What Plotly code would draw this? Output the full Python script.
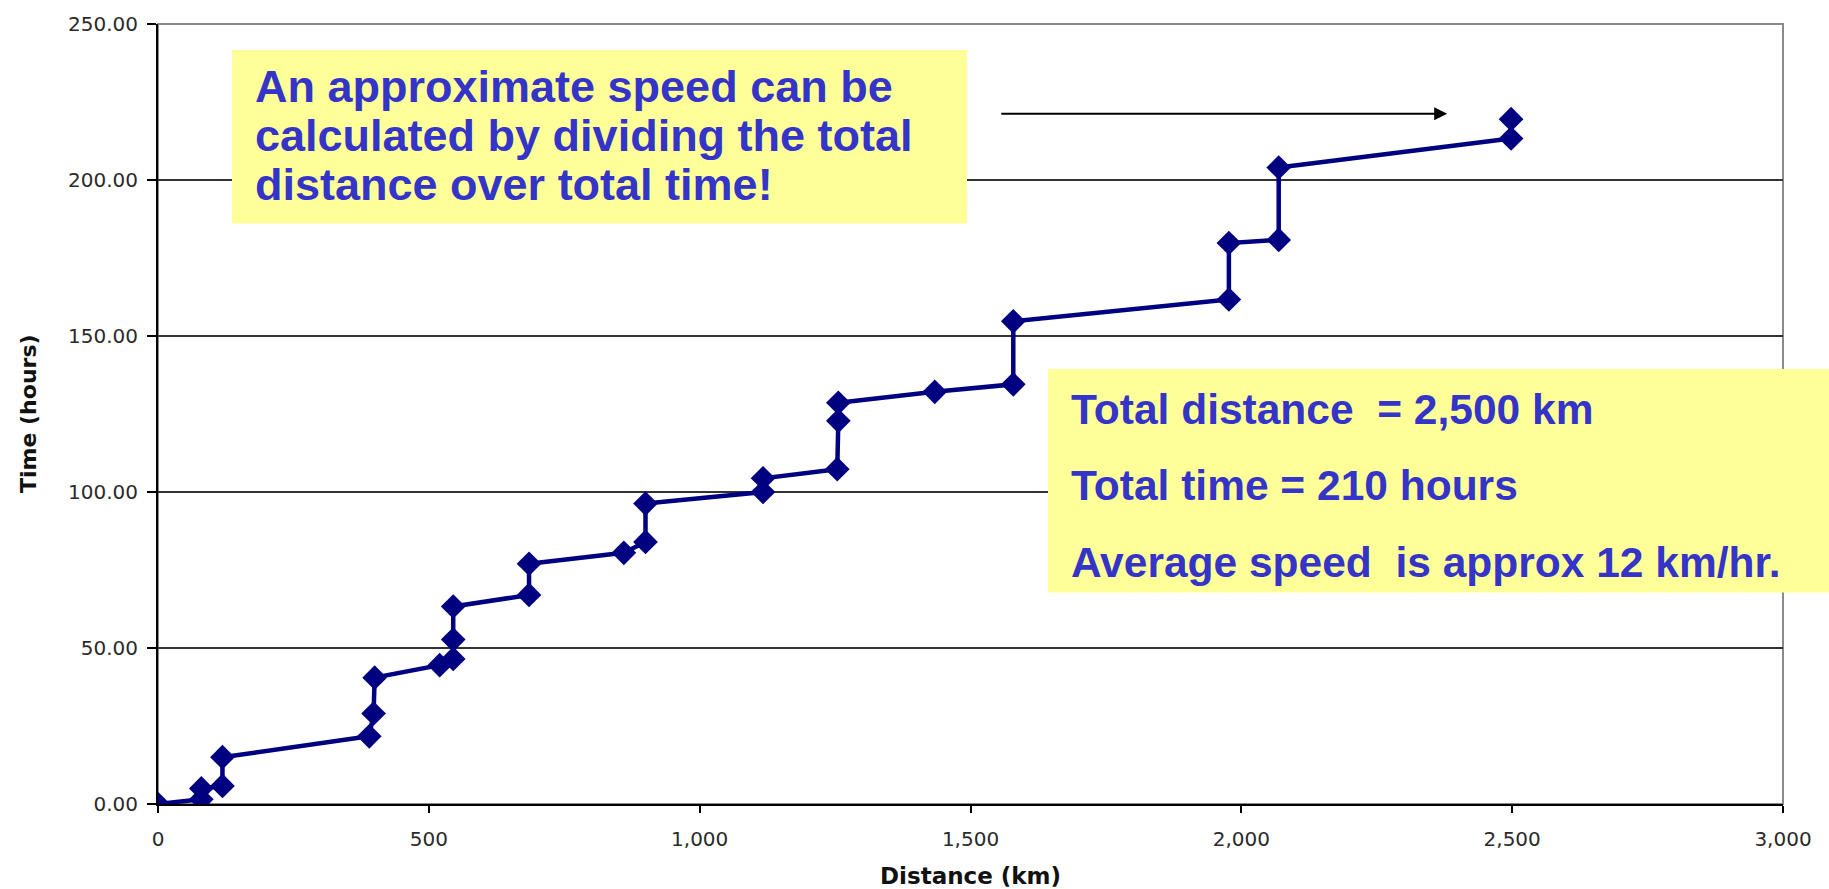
import plotly.graph_objects as go

# Cumulative journey log: distance travelled vs elapsed time
distance_km = [0, 80, 80, 119, 119, 390, 398, 400, 520, 545, 545, 545, 685, 685,
               860, 900, 900, 1117, 1117, 1254, 1256, 1256, 1434, 1579, 1579,
               1977, 1977, 2069, 2069, 2498, 2498]
time_hours = [0, 1.5, 5, 5.8, 15, 21.7, 29, 40.5, 44.5, 46.5, 52.7, 63.3, 67, 77,
              80.5, 84, 96.3, 100, 104.4, 107.3, 122.8, 128.6, 132.1, 134.5, 154.7,
              161.7, 179.8, 180.8, 204, 213.3, 219.5]

x_ticks = [0, 500, 1000, 1500, 2000, 2500, 3000]
x_tick_text = ["0", "500", "1,000", "1,500", "2,000", "2,500", "3,000"]
y_ticks = [0, 50, 100, 150, 200, 250]
y_tick_text = ["0.00", "50.00", "100.00", "150.00", "200.00", "250.00"]

x_title = "Distance (km)"
y_title = "Time (hours)"

note_lines = ["An approximate speed can be",
              "calculated by dividing the total",
              "distance over total time!"]
summary_lines = ["Total distance&nbsp; = 2,500 km",
                 "Total time = 210 hours",
                 "Average speed&nbsp; is approx 12 km/hr."]

W, H = 1829, 889
ML, MR, MT, MB = 158, 46, 22, 85
PW, PH = W - ML - MR, H - MT - MB


def px_x(p):
    return (p - ML) / PW


def px_y(p):
    return (H - MB - p) / PH


TEXT_BLUE = "#3434C8"
BOX_YELLOW = "#FFFF99"
TEXT_FONT = "Liberation Sans, Arial, sans-serif"
AXIS_FONT = "DejaVu Sans, Verdana, sans-serif"

fig = go.Figure()
fig.add_trace(go.Scatter(
    x=distance_km, y=time_hours, mode="lines+markers",
    line=dict(color="#000080", width=4.5),
    marker=dict(symbol="diamond", size=19, color="#000080"),
    showlegend=False, hoverinfo="x+y",
))

shapes = [
    # grey frame around the plot area
    dict(type="rect", xref="paper", yref="paper", x0=0, x1=1, y0=0, y1=1,
         line=dict(color="#8a8a8a", width=2), layer="below"),
    # note boxes
    dict(type="rect", xref="paper", yref="paper",
         x0=px_x(232), x1=px_x(967), y0=px_y(222), y1=px_y(48),
         fillcolor=BOX_YELLOW, line=dict(width=0), layer="above"),
    dict(type="rect", xref="paper", yref="paper",
         x0=px_x(1048), x1=px_x(1840), y0=px_y(592), y1=px_y(368),
         fillcolor=BOX_YELLOW, line=dict(width=0), layer="above"),
]

annotations = []
for i, t in enumerate(note_lines):
    annotations.append(dict(
        xref="paper", yref="paper", x=px_x(253), y=px_y(85 + i * 49),
        xanchor="left", yanchor="middle", text="<b>%s</b>" % t, showarrow=False,
        font=dict(family=TEXT_FONT, size=45, color=TEXT_BLUE)))
for i, t in enumerate(summary_lines):
    annotations.append(dict(
        xref="paper", yref="paper", x=px_x(1069), y=px_y(408 + i * 77),
        xanchor="left", yanchor="middle", text="<b>%s</b>" % t, showarrow=False,
        font=dict(family=TEXT_FONT, size=42.5, color=TEXT_BLUE)))

# pointer arrow towards the final point
annotations.append(dict(
    x=2380, y=221.2, ax=1554, ay=221.2, xref="x", yref="y", axref="x", ayref="y",
    text="", showarrow=True, arrowhead=2, arrowsize=1.3, arrowwidth=2,
    arrowcolor="black"))

# axis titles
annotations.append(dict(
    xref="paper", yref="paper", x=0.5, y=px_y(876), xanchor="center",
    yanchor="middle", text="<b>%s</b>" % x_title, showarrow=False,
    font=dict(family=AXIS_FONT, size=23, color="#111111")))
annotations.append(dict(
    xref="paper", yref="paper", x=px_x(28), y=0.5, xanchor="center",
    yanchor="middle", text="<b>%s</b>" % y_title, showarrow=False,
    textangle=-90, font=dict(family=AXIS_FONT, size=22, color="#111111")))

fig.update_layout(
    width=W, height=H, autosize=False,
    margin=dict(l=ML, r=MR, t=MT, b=MB),
    paper_bgcolor="white", plot_bgcolor="white",
    shapes=shapes, annotations=annotations,
    xaxis=dict(
        range=[0, 3000], tickvals=x_ticks, ticktext=x_tick_text,
        showgrid=False, zeroline=False, showline=True, linecolor="black",
        linewidth=2, ticks="outside", ticklen=7, tickwidth=2, tickcolor="black",
        ticklabelstandoff=9,
        tickfont=dict(family=AXIS_FONT, size=20, color="#2a2a2a"),
    ),
    yaxis=dict(
        range=[0, 250], tickvals=y_ticks, ticktext=y_tick_text,
        showgrid=True, gridcolor="#333333", gridwidth=2, zeroline=False,
        showline=True, linecolor="black", linewidth=2, ticks="outside",
        ticklen=9, tickwidth=2, tickcolor="black", ticklabelstandoff=5,
        tickfont=dict(family=AXIS_FONT, size=20, color="#2a2a2a"),
    ),
)

fig.write_html("out.html")
